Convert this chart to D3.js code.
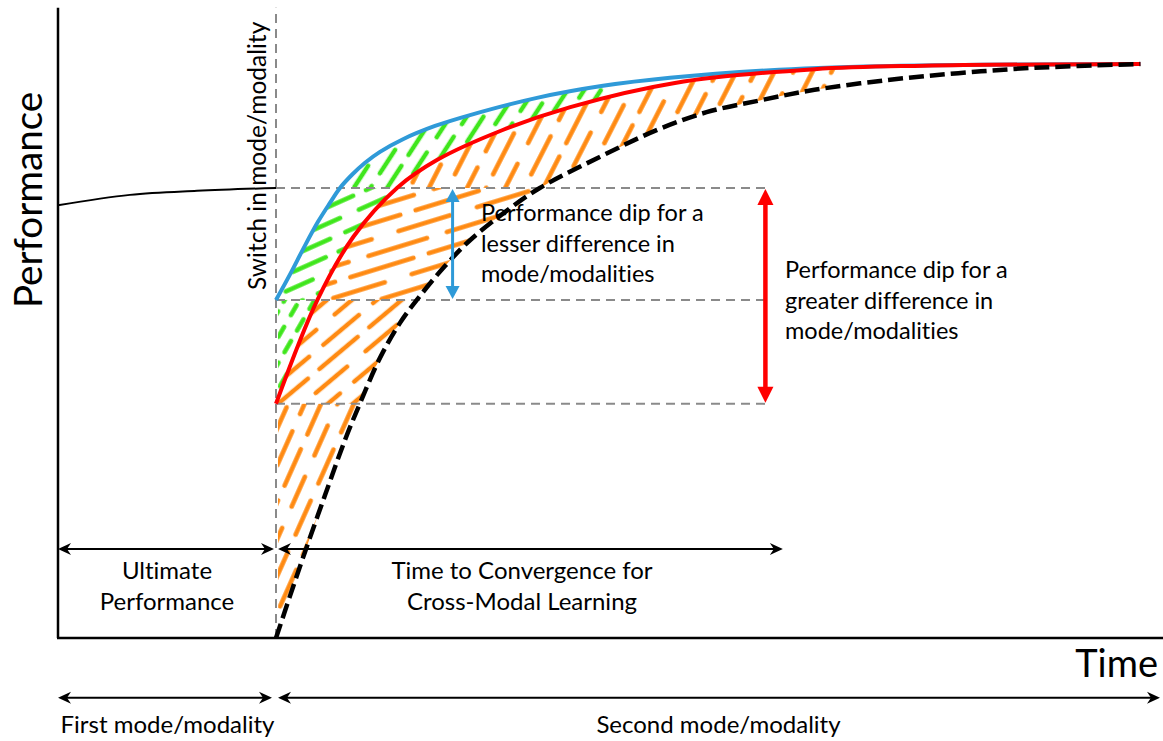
<!DOCTYPE html>
<html>
<head>
<meta charset="utf-8">
<script src="https://cdn.jsdelivr.net/npm/d3@7"></script>
<style>
  html, body { margin: 0; padding: 0; background: #fff; }
  svg { display: block; font-family: Lato, "Open Sans", sans-serif; font-variant-ligatures: none; }
</style>
</head>
<body>
<svg id="chart" width="1163" height="741"></svg>
<script>
// Performance over time, first mode (before the switch)
const firstModeTime = [0, 6.6, 12.75, 20];
const firstModePerf = [75.4, 77.2, 77.9, 78.4];

// Second mode: lesser difference in modality (blue)
const lesserTime = [20, 21.3, 22.5, 23.85, 24.95, 25.87, 26.97, 28.17, 29.54, 31.65, 34.59, 37.8, 43.94, 50, 56.15, 66.15, 77.25, 99.3];
const lesserPerf = [58.9, 63.4, 67.8, 72.5, 75.8, 78.4, 80.7, 82.8, 84.7, 86.9, 89.2, 91.1, 94.1, 96.2, 97.6, 99.0, 99.7, 100];

// Second mode: greater difference in modality (red)
const greaterTime = [20, 23.8, 27.1, 31.1, 34.8, 40.8, 47, 56.6, 69.4, 79.4, 99.3];
const greaterPerf = [40.8, 58.9, 69.9, 78.4, 83.3, 88.5, 92.5, 96.7, 99.1, 99.7, 100];

// Second mode learned from scratch (black dashed)
const scratchTime = [20, 21.28, 22.66, 24.5, 26.33, 27.71, 29.54, 31.38, 33.21, 35.5, 37.8, 41.0, 44.2, 49.7, 54.7, 59.5, 64.5, 69.4, 76.1, 82.6, 89.2, 99.3];
const scratchPerf = [0, 7.3, 15.0, 24.9, 34.5, 40.9, 48.8, 54.9, 59.6, 64.8, 69.3, 74.2, 78.4, 83.8, 88.3, 91.6, 93.7, 95.5, 97.2, 98.4, 99.3, 100];

// Reference levels and spans
const switchTime = 20;
const dipLevels = [78.4, 58.9, 40.8];   // ultimate, lesser dip, greater dip
const guideEndTime = 64.9;
const lesserArrowTime = 36.2;
const greaterArrowTime = 64.9;
const spanLevel = 15.5;
const convergenceEndTime = 66.5;
const modeLevel = -10.4;
const modeEndTime = 101.1;
const axisTopPerf = 109.8;
const axisEndTime = 101.4;

const svg = d3.select("#chart");
const x = d3.scaleLinear().domain([0, 100]).range([58, 1148]);
const y = d3.scaleLinear().domain([0, 100]).range([638, 64]);

const zipPts = (ts, ps) => ts.map((t, i) => [t, ps[i]]);
const firstPts = zipPts(firstModeTime, firstModePerf);
const lesserPts = zipPts(lesserTime, lesserPerf);
const greaterPts = zipPts(greaterTime, greaterPerf);
const scratchPts = zipPts(scratchTime, scratchPerf);

const curve = d3.curveCatmullRom.alpha(0.5);
const line = d3.line().x(d => x(d[0])).y(d => y(d[1])).curve(curve);
const areaBelow = d3.area().x(d => x(d[0])).y0(y(-20)).y1(d => y(d[1])).curve(curve);
const areaAbove = d3.area().x(d => x(d[0])).y0(0).y1(d => y(d[1])).curve(curve);

const defs = svg.append("defs");
function clip(id, d) {
  defs.append("clipPath").attr("id", id).append("path").attr("d", d);
}
clip("belowLesser", areaBelow(lesserPts));
clip("aboveGreater", areaAbove(greaterPts));
clip("belowGreater", areaBelow(greaterPts));
clip("aboveScratch", areaAbove(scratchPts));

// Hand-drawn style hatching: three staggered columns of short strokes
const columnOffsets = [0, 0.42, 0.77];
const columnScale = [1, 0.82, 0.93];
function addHatch(id, color, angle, spacing, dash, gap, width) {
  const P = dash + gap;
  const pat = defs.append("pattern").attr("id", id)
    .attr("patternUnits", "userSpaceOnUse")
    .attr("width", spacing * 3).attr("height", P)
    .attr("patternTransform", `rotate(${90 - angle})`);
  const g = pat.append("g").attr("stroke", color).attr("stroke-width", width)
    .attr("stroke-linecap", "round").attr("fill", "none");
  const seg = (cx, a, b) => g.append("line").attr("x1", cx).attr("x2", cx).attr("y1", a).attr("y2", b);
  columnOffsets.forEach((off, k) => {
    const cx = spacing * (k + 0.5);
    const len = dash * columnScale[k];
    const b = (gap / 2 + P * off) % P;
    const e = b + len;
    if (e <= P) seg(cx, b, e);
    else { seg(cx, b, P + width); seg(cx, -width, e - P); }
  });
}
const orange = "#ff8a12", green = "#3fe61c", blue = "#2f9ad8", red = "#ff0000";
addHatch("o1", orange, 63, 17, 46, 15, 4.5);
addHatch("o2", orange, 17, 15, 66, 16, 4.5);
addHatch("o3", orange, 40, 16, 50, 15, 4.5);
addHatch("o4", orange, 66, 15, 40, 16, 4.5);
addHatch("g1", green, 57, 14, 30, 13, 4.5);
addHatch("g2", green, 24, 15, 36, 14, 4.5);
addHatch("g3", green, 60, 13, 14, 11, 4.5);

// Hatched regions, band by band
const bandEdges = [110, dipLevels[0], dipLevels[1], dipLevels[2], -5];
function hatchRegion(outerClip, innerClip, ids, endTime) {
  const g = svg.append("g").attr("clip-path", `url(#${outerClip})`)
    .append("g").attr("clip-path", `url(#${innerClip})`);
  ids.forEach((id, i) => {
    if (!id) return;
    g.append("rect")
      .attr("x", x(switchTime) + 2).attr("width", x(endTime) - x(switchTime))
      .attr("y", y(bandEdges[i])).attr("height", y(bandEdges[i + 1]) - y(bandEdges[i]))
      .attr("fill", `url(#${id})`);
  });
}
hatchRegion("belowLesser", "aboveGreater", ["g1", "g2", "g3", null], 50);
hatchRegion("belowGreater", "aboveScratch", ["o1", "o2", "o3", "o4"], 71.5);

// Grey dashed guides
const guides = svg.append("g").attr("stroke", "#8a8a8a").attr("stroke-width", 2)
  .attr("stroke-dasharray", "9 6").attr("fill", "none");
dipLevels.forEach(p => guides.append("line")
  .attr("x1", x(switchTime)).attr("x2", x(guideEndTime))
  .attr("y1", y(p)).attr("y2", y(p)));
guides.append("line").attr("x1", x(switchTime)).attr("x2", x(switchTime))
  .attr("y1", y(0)).attr("y2", y(axisTopPerf));

// Axes
const axes = svg.append("g").attr("stroke", "#000").attr("stroke-width", 2.5);
axes.append("line").attr("x1", x(0)).attr("x2", x(0)).attr("y1", y(0)).attr("y2", y(axisTopPerf));
axes.append("line").attr("x1", x(0) - 1).attr("x2", x(axisEndTime)).attr("y1", y(0)).attr("y2", y(0));

// Curves
svg.append("path").attr("d", line(firstPts)).attr("fill", "none").attr("stroke", "#000").attr("stroke-width", 2);
svg.append("path").attr("d", line(lesserPts)).attr("fill", "none").attr("stroke", blue).attr("stroke-width", 4);
svg.append("path").attr("d", line(greaterPts)).attr("fill", "none").attr("stroke", red).attr("stroke-width", 4);
svg.append("path").attr("d", line(scratchPts)).attr("fill", "none").attr("stroke", "#000")
  .attr("stroke-width", 4.5).attr("stroke-dasharray", "15 6");

// Double-headed arrows
function doubleArrow(x1, y1, x2, y2, o) {
  const g = svg.append("g");
  const dx = x2 - x1, dy = y2 - y1, L = Math.hypot(dx, dy);
  const ux = dx / L, uy = dy / L, nx = -uy, ny = ux;
  const inset = o.len - o.notch - 0.5;
  g.append("line")
    .attr("x1", x1 + ux * inset).attr("y1", y1 + uy * inset)
    .attr("x2", x2 - ux * inset).attr("y2", y2 - uy * inset)
    .attr("stroke", o.color).attr("stroke-width", o.width);
  const head = (tx, ty, sx, sy) => {
    const bx = tx - sx * o.len, by = ty - sy * o.len;
    const mx = tx - sx * (o.len - o.notch), my = ty - sy * (o.len - o.notch);
    return `M${tx},${ty}L${bx + nx * o.half},${by + ny * o.half}L${mx},${my}L${bx - nx * o.half},${by - ny * o.half}Z`;
  };
  g.append("path").attr("d", head(x2, y2, ux, uy)).attr("fill", o.color);
  g.append("path").attr("d", head(x1, y1, -ux, -uy)).attr("fill", o.color);
}
const blackHead = { color: "#000", width: 2, len: 13, half: 6, notch: 4 };
doubleArrow(x(0), y(spanLevel), x(switchTime) - 2, y(spanLevel), blackHead);
doubleArrow(x(switchTime) + 2, y(spanLevel), x(convergenceEndTime), y(spanLevel), blackHead);
doubleArrow(x(0), y(modeLevel), x(switchTime) - 4, y(modeLevel), blackHead);
doubleArrow(x(switchTime) + 2, y(modeLevel), x(modeEndTime), y(modeLevel), blackHead);
doubleArrow(x(lesserArrowTime), y(dipLevels[0]) + 1, x(lesserArrowTime), y(dipLevels[1]) - 1,
  { color: blue, width: 3, len: 13, half: 7, notch: 0 });
doubleArrow(x(greaterArrowTime), y(dipLevels[0]) + 1, x(greaterArrowTime), y(dipLevels[2]) - 1,
  { color: red, width: 4.5, len: 16, half: 8, notch: 0 });

// Text
function label(lines, tx, ty, size, anchor, lh) {
  const t = svg.append("text").attr("font-size", size).attr("text-anchor", anchor).attr("fill", "#000");
  lines.forEach((s, i) => t.append("tspan").attr("x", tx).attr("y", ty + i * lh).text(s));
  return t;
}
svg.append("text").attr("transform", "translate(42,200) rotate(-90)")
  .attr("text-anchor", "middle").attr("font-size", 38.6).text("Performance");
svg.append("text").attr("x", 1158).attr("y", 677).attr("text-anchor", "end")
  .attr("font-size", 38).text("Time");
svg.append("text").attr("transform", "translate(266,290) rotate(-90)")
  .attr("text-anchor", "start").attr("font-size", 24.5).text("Switch in mode/modality");

label(["Performance dip for a", "lesser difference in", "mode/modalities"], 481, 221, 23.5, "start", 30.5);
label(["Performance dip for a", "greater difference in", "mode/modalities"], 785, 278, 23.5, "start", 30.5);
label(["Ultimate", "Performance"], 167, 579, 24, "middle", 31);
label(["Time to Convergence for", "Cross-Modal Learning"], 522, 579, 24, "middle", 31);
label(["First mode/modality"], 167.5, 733, 24, "middle", 0);
label(["Second mode/modality"], 718.5, 733, 24, "middle", 0);
</script>
</body>
</html>
